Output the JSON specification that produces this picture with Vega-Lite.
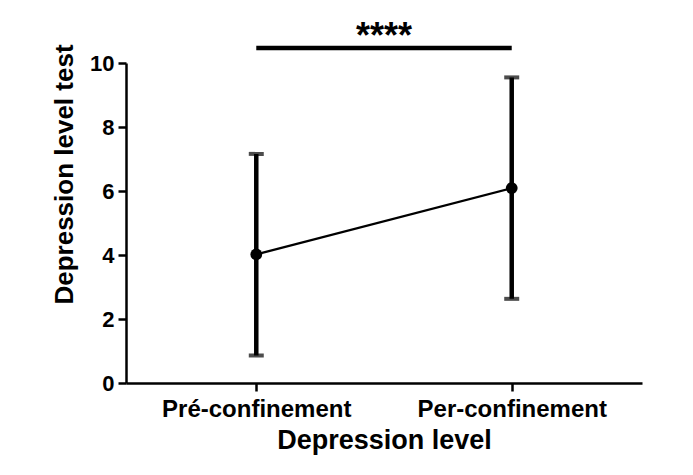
{
  "$schema": "https://vega.github.io/schema/vega-lite/v6.json",
  "width": 516,
  "height": 320,
  "autosize": {"type": "none"},
  "padding": {"left": 126, "top": 63, "right": 51, "bottom": 92},
  "background": "white",
  "config": {
    "view": {"stroke": null},
    "font": "Liberation Sans",
    "axis": {"grid": false, "domainColor": "black", "tickColor": "black", "domainWidth": 2.5, "tickWidth": 2.5, "tickSize": 8, "labelColor": "black", "titleColor": "black", "labelFont": "Liberation Sans", "titleFont": "Liberation Sans", "labelFontWeight": "bold", "titleFontWeight": "bold", "labelLimit": 0}
  },
  "datasets": {
    "stats": [
      {"group": "Pré-confinement", "mean": 4.02, "lo": 0.86, "hi": 7.16},
      {"group": "Per-confinement", "mean": 6.09, "lo": 2.63, "hi": 9.55}
    ],
    "sig": [
      {"from": "Pré-confinement", "to": "Per-confinement", "level": 10.47, "label": "****", "labelLevel": 10.8}
    ]
  },
  "layer": [
    {
      "data": {"name": "stats"},
      "mark": {"type": "rule", "strokeWidth": 4.5, "color": "black"},
      "encoding": {
        "x": {"field": "group", "type": "nominal", "sort": null,
          "scale": {"type": "point", "padding": 0.51},
          "axis": {"title": "Depression level", "labelAngle": 0, "labelFontSize": 24, "titleFontSize": 27, "labelPadding": 6, "titlePadding": 6}},
        "y": {"field": "lo", "type": "quantitative",
          "scale": {"domain": [0, 10], "nice": false},
          "axis": {"title": "Depression level test", "values": [0, 2, 4, 6, 8, 10], "labelFontSize": 22, "titleFontSize": 26, "labelPadding": 4, "titlePadding": 12, "titleY": 111}},
        "y2": {"field": "hi"}
      }
    },
    {
      "data": {"name": "stats"},
      "mark": {"type": "tick", "thickness": 4, "size": 15, "color": "black"},
      "encoding": {
        "x": {"field": "group", "type": "nominal", "sort": null},
        "y": {"field": "lo", "type": "quantitative"}
      }
    },
    {
      "data": {"name": "stats"},
      "mark": {"type": "tick", "thickness": 4, "size": 15, "color": "black"},
      "encoding": {
        "x": {"field": "group", "type": "nominal", "sort": null},
        "y": {"field": "hi", "type": "quantitative"}
      }
    },
    {
      "data": {"name": "stats"},
      "mark": {"type": "line", "strokeWidth": 2.2, "color": "black"},
      "encoding": {
        "x": {"field": "group", "type": "nominal", "sort": null},
        "y": {"field": "mean", "type": "quantitative"}
      }
    },
    {
      "data": {"name": "stats"},
      "mark": {"type": "point", "filled": true, "size": 140, "color": "black", "opacity": 1},
      "encoding": {
        "x": {"field": "group", "type": "nominal", "sort": null},
        "y": {"field": "mean", "type": "quantitative"}
      }
    },
    {
      "data": {"name": "sig"},
      "mark": {"type": "rule", "strokeWidth": 4.5, "color": "black", "clip": false},
      "encoding": {
        "x": {"field": "from", "type": "nominal", "sort": null},
        "x2": {"field": "to"},
        "y": {"field": "level", "type": "quantitative"}
      }
    },
    {
      "data": {"name": "sig"},
      "mark": {"type": "text", "fontSize": 36, "fontWeight": "bold", "color": "black", "baseline": "middle", "align": "center", "clip": false},
      "encoding": {
        "text": {"field": "label"},
        "y": {"field": "labelLevel", "type": "quantitative"}
      }
    }
  ]
}
